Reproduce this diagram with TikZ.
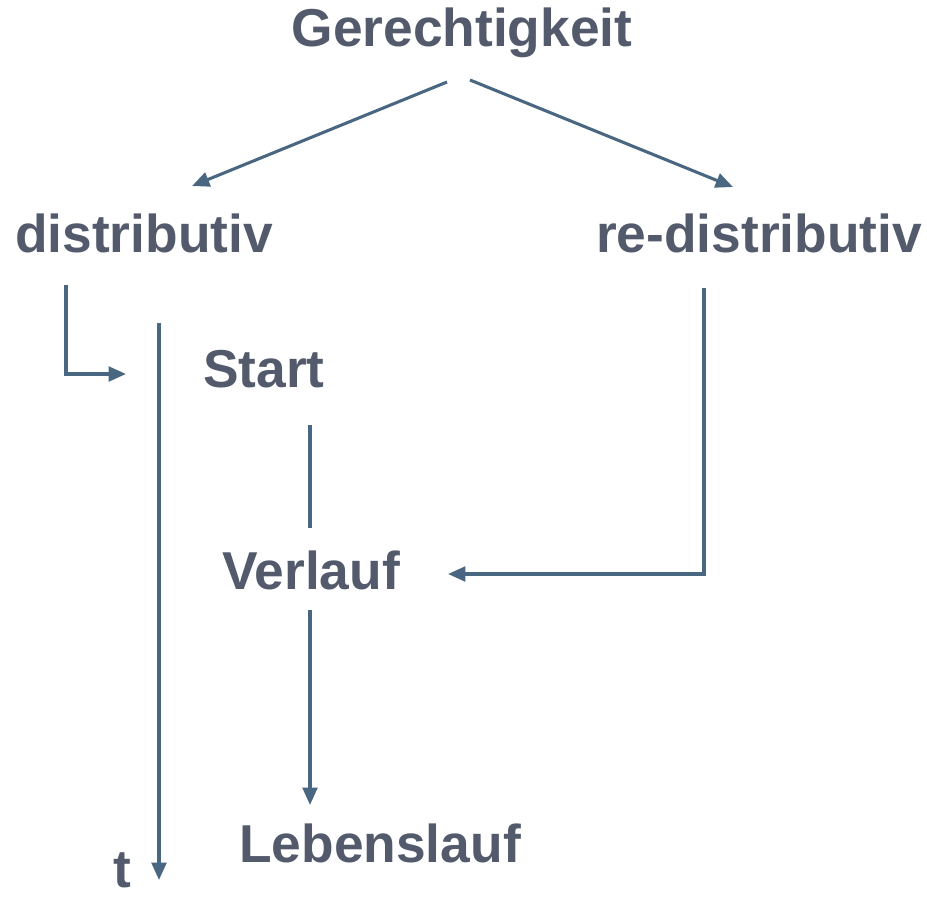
\documentclass[tikz,border=0pt]{standalone}
\usepackage{fontspec}
\setmainfont{Liberation Sans}
\usepackage{tikz}
\usetikzlibrary{arrows.meta,positioning}
\definecolor{labelgray}{HTML}{525A6C}
\definecolor{linkblue}{HTML}{4A6782}

\begin{document}
\begin{tikzpicture}[
    x=.75pt,
    y=-.75pt,
    term/.style={
      anchor=base,
      inner sep=0,
      text=labelgray,
      font=\bfseries\fontsize{40}{40}\selectfont,
    },
    link/.style={
      line width=2.3pt,
      color=linkblue,
    },
    arrowlink/.style={
      link,
      -{Triangle[length=13pt,width=11pt]},
    },
  ]
    \useasboundingbox (0,0) rectangle (927,900);

    \node[term] (ger) at (462, 46) {Gerechtigkeit};
    \node[term] (dist) at (144, 252) {distributiv};
    \node[term] (redist) at (759, 252) {re-distributiv};
    \node[term] (start) at (264, 387) {Start};
    \node[term] (verlauf) at (311, 589) {Verlauf};
    \node[term] (leben) at (380, 862) {Lebenslauf};
    \node[term] (t) at (122, 887) {t};

    % free ends of the connectors
    \coordinate (gerl) at (447, 82);
    \coordinate (gerr) at (470, 80);
    \coordinate (distin) at (192, 186);
    \coordinate (redistin) at (733, 187);
    \coordinate (distout) at (66, 285);
    \coordinate (bend) at (66, 374);
    \coordinate (axisin) at (126, 374);
    \coordinate (axistop) at (159, 323);
    \coordinate (axisend) at (159, 880);
    \coordinate (startout) at (310, 425);
    \coordinate (verlaufin) at (310, 528);
    \coordinate (verlaufout) at (310, 610);
    \coordinate (lebenin) at (310, 805);
    \coordinate (redistout) at (704, 288);
    \coordinate (rbend) at (704, 574);
    \coordinate (verlaufr) at (448, 574);

    \draw[arrowlink] (gerl) -- (distin);
    \draw[arrowlink] (gerr) -- (redistin);

    \draw[arrowlink] (distout) -- (bend) -- (axisin);
    \draw[arrowlink] (axistop) -- (axisend);

    \draw[link] (startout) -- (verlaufin);
    \draw[arrowlink] (verlaufout) -- (lebenin);

    \draw[arrowlink] (redistout) -- (rbend) -- (verlaufr);
\end{tikzpicture}
\end{document}
